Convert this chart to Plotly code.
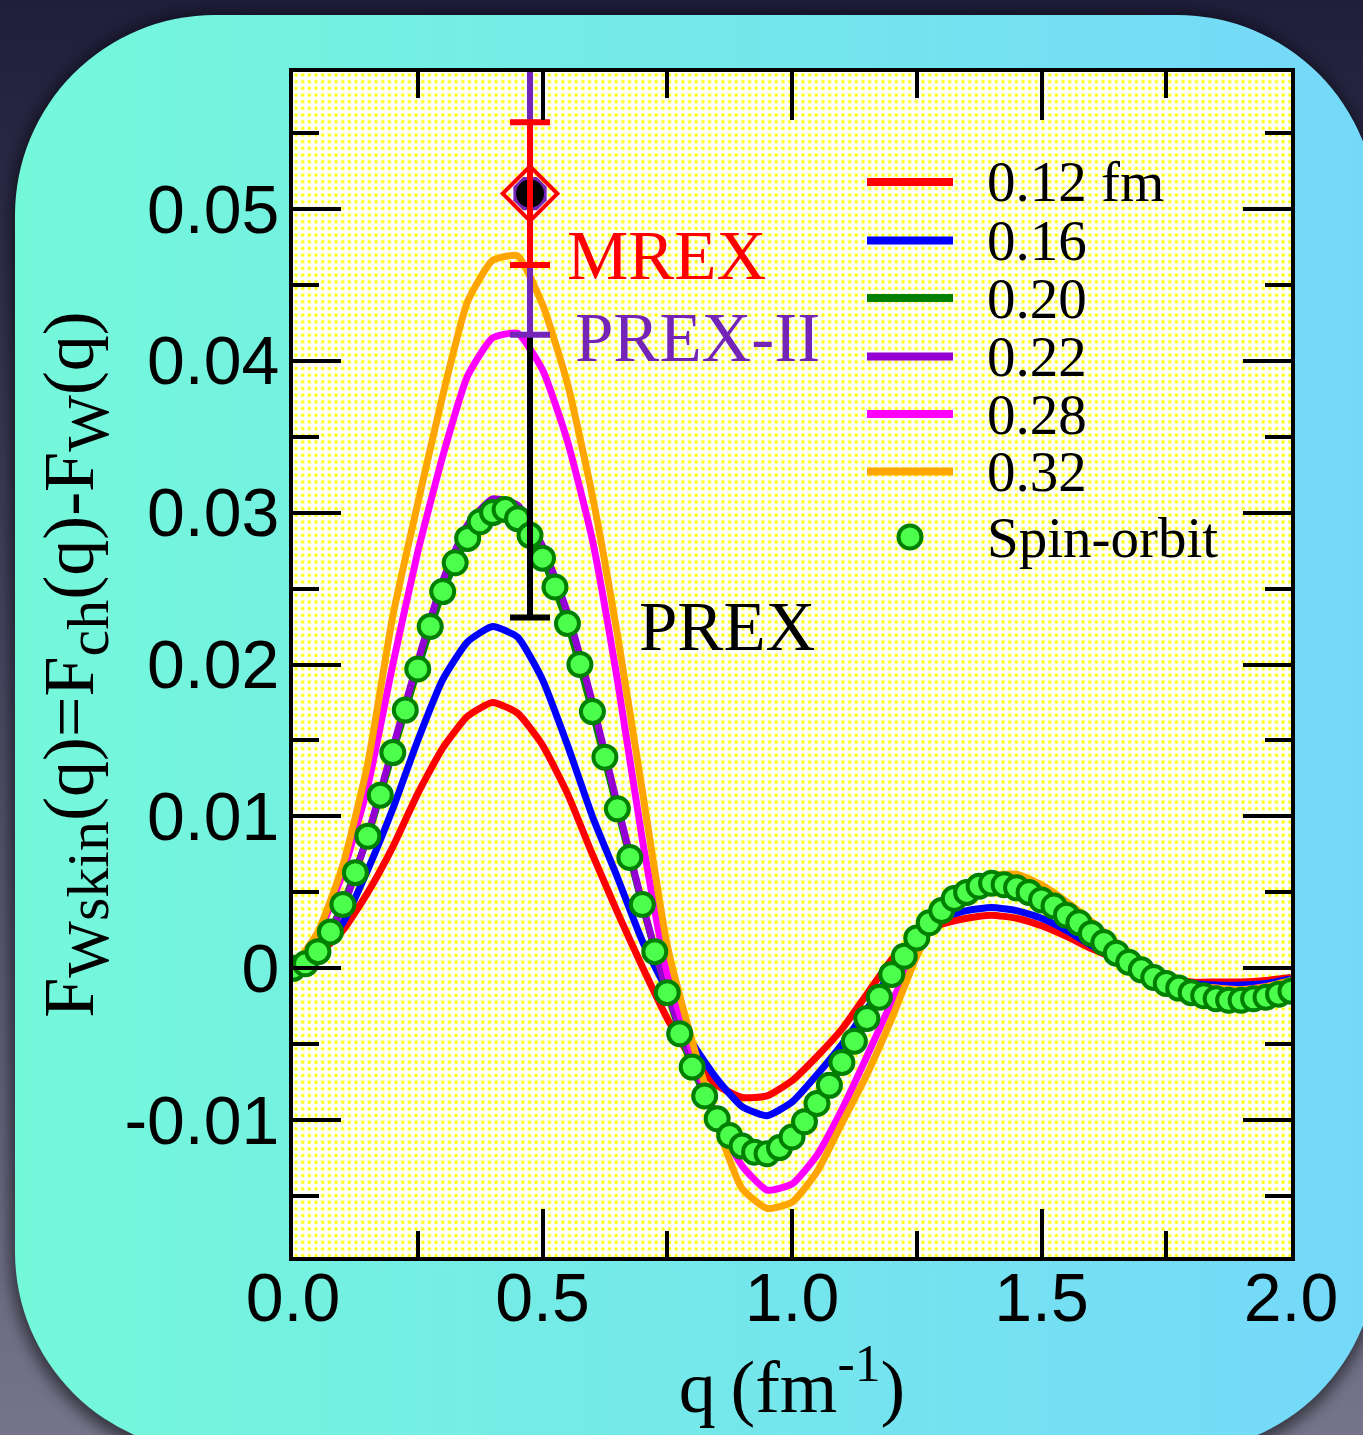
import base64
import plotly.graph_objects as go

# ---------------- data ----------------
q_line = [0.00, 0.05, 0.10, 0.15, 0.20, 0.25, 0.30, 0.35, 0.40, 0.45,
          0.50, 0.55, 0.60, 0.65, 0.70, 0.75, 0.80, 0.85, 0.90, 0.95,
          1.00, 1.05, 1.10, 1.15, 1.20, 1.25, 1.30, 1.35, 1.40, 1.45,
          1.50, 1.55, 1.60, 1.65, 1.70, 1.75, 1.80, 1.85, 1.90, 1.95, 2.00]

f_012 = [0, 0.0009, 0.0025, 0.0050, 0.0080, 0.0115, 0.0145, 0.0166, 0.0175, 0.0168,
         0.0147, 0.0115, 0.0075, 0.0037, 0.0001, -0.0033, -0.0060, -0.0077, -0.0085, -0.0084,
         -0.0074, -0.0058, -0.0040, -0.0017, 0.0006, 0.0021, 0.0029, 0.0033, 0.0035, 0.0033,
         0.0028, 0.0021, 0.0013, 0.0006, -0.0001, -0.0006, -0.0009, -0.0009, -0.0009, -0.0008, -0.0006]

f_016 = [0, 0.0011, 0.0030, 0.0065, 0.0105, 0.0150, 0.0190, 0.0215, 0.0225, 0.0218,
         0.0190, 0.0147, 0.0100, 0.0060, 0.0018, -0.0015, -0.0049, -0.0073, -0.0091, -0.0097,
         -0.0088, -0.0070, -0.0050, -0.0027, -0.0002, 0.0020, 0.0033, 0.0038, 0.0040, 0.0038,
         0.0033, 0.0025, 0.0015, 0.0006, -0.0002, -0.0007, -0.0010, -0.0011, -0.0011, -0.0010, -0.0007]

f_020 = [0, 0.0011, 0.0042, 0.0087, 0.0142, 0.0197, 0.0248, 0.0283, 0.0300, 0.0296,
         0.0270, 0.0227, 0.0169, 0.0105, 0.0042, -0.0016, -0.0065, -0.0099, -0.0117, -0.0122,
         -0.0111, -0.0089, -0.0062, -0.0033, -0.0004, 0.0020, 0.0038, 0.0050, 0.0056, 0.0053,
         0.0045, 0.0035, 0.0023, 0.0010, -0.0001, -0.0010, -0.0016, -0.0020, -0.0021, -0.0019, -0.0015]

f_022 = [0, 0.0012, 0.0040, 0.0088, 0.0145, 0.0202, 0.0255, 0.0292, 0.0309, 0.0305,
         0.0278, 0.0234, 0.0175, 0.0108, 0.0043, -0.0015, -0.0062, -0.0097, -0.0117, -0.0122,
         -0.0112, -0.0092, -0.0064, -0.0035, -0.0006, 0.0019, 0.0037, 0.0049, 0.0055, 0.0054,
         0.0047, 0.0037, 0.0025, 0.0013, 0.0002, -0.0009, -0.0014, -0.0017, -0.0018, -0.0017, -0.0013]

f_028 = [0, 0.0022, 0.0063, 0.0120, 0.0200, 0.0274, 0.0337, 0.0390, 0.0415, 0.0418,
         0.0394, 0.0347, 0.0282, 0.0190, 0.0085, -0.0003, -0.0055, -0.0100, -0.0130, -0.0146,
         -0.0142, -0.0123, -0.0093, -0.0058, -0.0022, 0.0010, 0.0037, 0.0052, 0.0059, 0.0060,
         0.0054, 0.0043, 0.0030, 0.0016, 0.0003, -0.0006, -0.0011, -0.0013, -0.0014, -0.0012, -0.0009]

f_032 = [0, 0.0024, 0.0068, 0.0135, 0.0232, 0.0306, 0.0377, 0.0439, 0.0466, 0.0469,
         0.0437, 0.0385, 0.0311, 0.0220, 0.0117, 0.0015, -0.0048, -0.0103, -0.0145, -0.0158,
         -0.0154, -0.0134, -0.0102, -0.0070, -0.0033, 0.0008, 0.0038, 0.0054, 0.0061, 0.0062,
         0.0055, 0.0044, 0.0031, 0.0017, 0.0003, -0.0006, -0.0011, -0.0013, -0.0014, -0.0012, -0.0008]

q_so = [0.000, 0.025, 0.050, 0.075, 0.100, 0.125, 0.150, 0.175, 0.200, 0.225,
        0.250, 0.275, 0.300, 0.325, 0.350, 0.375, 0.400, 0.425, 0.450, 0.475,
        0.500, 0.525, 0.550, 0.575, 0.600, 0.625, 0.650, 0.675, 0.700, 0.725,
        0.750, 0.775, 0.800, 0.825, 0.850, 0.875, 0.900, 0.925, 0.950, 0.975,
        1.000, 1.025, 1.050, 1.075, 1.100, 1.125, 1.150, 1.175, 1.200, 1.225,
        1.250, 1.275, 1.300, 1.325, 1.350, 1.375, 1.400, 1.425, 1.450, 1.475,
        1.500, 1.525, 1.550, 1.575, 1.600, 1.625, 1.650, 1.675, 1.700, 1.725,
        1.750, 1.775, 1.800, 1.825, 1.850, 1.875, 1.900, 1.925, 1.950, 1.975, 2.000]

f_so = [0, 0.0003, 0.0011, 0.0024, 0.0042, 0.0063, 0.0087, 0.0114, 0.0142, 0.0170,
        0.0197, 0.0225, 0.0248, 0.0267, 0.0283, 0.0294, 0.0300, 0.0302, 0.0296, 0.0285,
        0.0270, 0.0251, 0.0227, 0.0200, 0.0169, 0.0139, 0.0105, 0.0073, 0.0042, 0.0011,
        -0.0016, -0.0043, -0.0065, -0.0084, -0.0099, -0.0110, -0.0117, -0.0121, -0.0122, -0.0118,
        -0.0111, -0.0101, -0.0089, -0.0077, -0.0062, -0.0048, -0.0033, -0.0019, -0.0004, 0.0008,
        0.0020, 0.0030, 0.0038, 0.0046, 0.0050, 0.0054, 0.0056, 0.0055, 0.0053, 0.0050,
        0.0045, 0.0041, 0.0035, 0.0030, 0.0023, 0.0017, 0.0010, 0.0004, -0.0001, -0.0006,
        -0.0010, -0.0013, -0.0016, -0.0018, -0.0020, -0.0021, -0.0021, -0.0020, -0.0019, -0.0017, -0.0015]

series_names = ["0.12 fm", "0.16", "0.20", "0.22", "0.28", "0.32"]
series_values = [f_012, f_016, f_020, f_022, f_028, f_032]
series_colors = ["#ff0000", "#0000ff", "#008000", "#9400d3", "#ff00ff", "#ffa500"]

exp_q = 0.475
exp_F = 0.051
prex_err = 0.0279
prex2_err = 0.0093
mrex_err = 0.0047

x_tickvals = [0.0, 0.5, 1.0, 1.5, 2.0]
x_ticktext = ["0.0", "0.5", "1.0", "1.5", "2.0"]
y_tickvals = [-0.01, 0.0, 0.01, 0.02, 0.03, 0.04, 0.05]
y_ticktext = ["-0.01", "0", "0.01", "0.02", "0.03", "0.04", "0.05"]

# ---------------- layout geometry ----------------
W, H = 1363, 1435
L, R, T, B = 293, 72, 72, 178
PW, PH = W - L - R, H - T - B

def px_x(p):
    return (p - L) / PW

def px_y(p):
    return 1 - (p - T) / PH

SERIF = "Liberation Serif"
SANS = "Liberation Sans"
SO_FILL = "#4dff4d"

# background artwork (page gradient, rounded card, dotted plot area)
svg = f'''<svg xmlns="http://www.w3.org/2000/svg" width="{W}" height="{H}" viewBox="0 0 {W} {H}">
<defs>
<linearGradient id="outer" x1="0" y1="0" x2="0" y2="1">
<stop offset="0" stop-color="#1f1e3b"/><stop offset="1" stop-color="#74748a"/></linearGradient>
<linearGradient id="card" x1="0" y1="0" x2="1" y2="0">
<stop offset="0" stop-color="#74f8da"/><stop offset="1" stop-color="#75d8fa"/></linearGradient>
<pattern id="dots" x="{L}" y="{T}" width="6.67" height="6.67" patternUnits="userSpaceOnUse">
<rect x="1.5" y="1.5" width="3" height="3" fill="#ffff00"/></pattern>
<filter id="blur" x="-10%" y="-10%" width="120%" height="120%"><feGaussianBlur stdDeviation="7"/></filter>
</defs>
<rect width="{W}" height="{H}" fill="url(#outer)"/>
<rect x="10" y="12" width="1370" height="1450" rx="205" ry="205" fill="#000" opacity="0.5" filter="url(#blur)"/>
<rect x="15" y="15" width="1362" height="1437" rx="200" ry="200" fill="url(#card)"/>
<rect x="{L}" y="{T}" width="{PW}" height="{PH}" fill="#ffffff"/>
<rect x="{L}" y="{T}" width="{PW}" height="{PH}" fill="url(#dots)"/>
</svg>'''
bg_src = "data:image/svg+xml;base64," + base64.b64encode(svg.encode()).decode()

fig = go.Figure()

for name, vals, col in zip(series_names, series_values, series_colors):
    fig.add_trace(go.Scatter(x=q_line, y=vals, mode="lines", name=name,
                             line=dict(color=col, width=7, shape="spline", smoothing=0.5),
                             showlegend=False))

fig.add_trace(go.Scatter(x=q_so, y=f_so, mode="markers", name="Spin-orbit",
                         marker=dict(symbol="circle", size=23, color=SO_FILL,
                                     line=dict(color="#008000", width=4)),
                         showlegend=False))

# experimental points
fig.add_trace(go.Scatter(x=[exp_q], y=[exp_F], mode="lines", name="PREX",
                         error_y=dict(type="data", array=[prex_err], color="black",
                                      thickness=6, width=20),
                         showlegend=False))
fig.add_trace(go.Scatter(x=[exp_q], y=[exp_F], mode="markers", name="PREX-II",
                         marker=dict(symbol="octagon", size=36, color="#7425b8"),
                         error_y=dict(type="data", array=[prex2_err], color="#7425b8",
                                      thickness=6, width=20),
                         showlegend=False))
fig.add_trace(go.Scatter(x=[exp_q], y=[exp_F], mode="markers", name="PREX marker",
                         marker=dict(symbol="circle", size=28, color="black"),
                         showlegend=False))
fig.add_trace(go.Scatter(x=[exp_q], y=[exp_F], mode="markers", name="MREX",
                         marker=dict(symbol="diamond-open", size=42, color="#ff0000",
                                     line=dict(width=4, color="#ff0000")),
                         error_y=dict(type="data", array=[mrex_err], color="#ff0000",
                                      thickness=6, width=20),
                         showlegend=False))

# manual legend
shapes = []
annotations = []
leg_y = [182, 240.5, 298, 356.5, 414, 471.5]
for yy, name, col in zip(leg_y, series_names, series_colors):
    shapes.append(dict(type="line", xref="paper", yref="paper",
                       x0=px_x(867), x1=px_x(953), y0=px_y(yy), y1=px_y(yy),
                       line=dict(color=col, width=8)))
    annotations.append(dict(xref="paper", yref="paper", x=px_x(985), y=px_y(yy),
                            text=name, showarrow=False, xanchor="left", yanchor="middle",
                            font=dict(family=SERIF, size=57, color="black")))
shapes.append(dict(type="circle", xref="paper", yref="paper", xsizemode="pixel",
                   ysizemode="pixel", xanchor=px_x(910), yanchor=px_y(537),
                   x0=-11.5, x1=11.5, y0=-11.5, y1=11.5,
                   fillcolor=SO_FILL, line=dict(color="#008000", width=4)))
annotations.append(dict(xref="paper", yref="paper", x=px_x(985), y=px_y(537),
                        text="Spin-orbit", showarrow=False, xanchor="left", yanchor="middle",
                        font=dict(family=SERIF, size=57, color="black")))

# experiment labels
annotations.append(dict(x=0.545, y=0.0469, text="MREX", showarrow=False,
                        xanchor="left", yanchor="middle",
                        font=dict(family=SERIF, size=69, color="#ff0000")))
annotations.append(dict(x=0.561, y=0.0415, text="PREX-II", showarrow=False,
                        xanchor="left", yanchor="middle",
                        font=dict(family=SERIF, size=69, color="#7425b8")))
annotations.append(dict(x=0.689, y=0.0225, text="PREX", showarrow=False,
                        xanchor="left", yanchor="middle",
                        font=dict(family=SERIF, size=69, color="black")))

axis_common = dict(showline=True, linewidth=4, linecolor="black", mirror="ticks",
                   ticks="inside", ticklen=48, tickwidth=4, tickcolor="black",
                   showgrid=False, zeroline=False)

SUB = '<sub><span style="font-family:Liberation Serif;font-size:60px">{}</span></sub>'
y_title = ("F" + SUB.format("Wskin") + "(q)=F" + SUB.format("ch") +
           "(q)-F" + SUB.format("W") + "(q)")

fig.update_xaxes(range=[0, 2], tickmode="array", tickvals=x_tickvals, ticktext=x_ticktext,
                 tickfont=dict(family=SANS, size=68, color="black"),
                 ticklabelstandoff=-22,
                 minor=dict(ticks="inside", ticklen=26, tickwidth=4, tickcolor="black",
                            dtick=0.25, tick0=0, showgrid=False),
                 title=dict(text="q\u2009(fm<sup>-1</sup>)", standoff=10,
                            font=dict(family=SERIF, size=74, color="black")),
                 **axis_common)
fig.update_yaxes(range=[-0.019, 0.059], tickmode="array", tickvals=y_tickvals, ticktext=y_ticktext,
                 tickfont=dict(family=SANS, size=68, color="black"),
                 ticklabelstandoff=-4,
                 minor=dict(ticks="inside", ticklen=26, tickwidth=4, tickcolor="black",
                            dtick=0.005, tick0=0, showgrid=False),
                 title=dict(text=y_title, standoff=8,
                            font=dict(family=SERIF, size=72, color="black")),
                 **axis_common)

fig.update_layout(
    width=W, height=H, autosize=False,
    margin=dict(l=L, r=R, t=T, b=B, pad=0),
    paper_bgcolor="#2a2a46", plot_bgcolor="rgba(0,0,0,0)",
    showlegend=False,
    shapes=shapes, annotations=annotations,
    images=[dict(source=bg_src, xref="paper", yref="paper",
                 x=-L / PW, y=1 + T / PH, sizex=W / PW, sizey=H / PH,
                 xanchor="left", yanchor="top", sizing="stretch", layer="below")],
)

fig.write_html("out.html", include_plotlyjs=True, full_html=True,
               config={"displayModeBar": False})
